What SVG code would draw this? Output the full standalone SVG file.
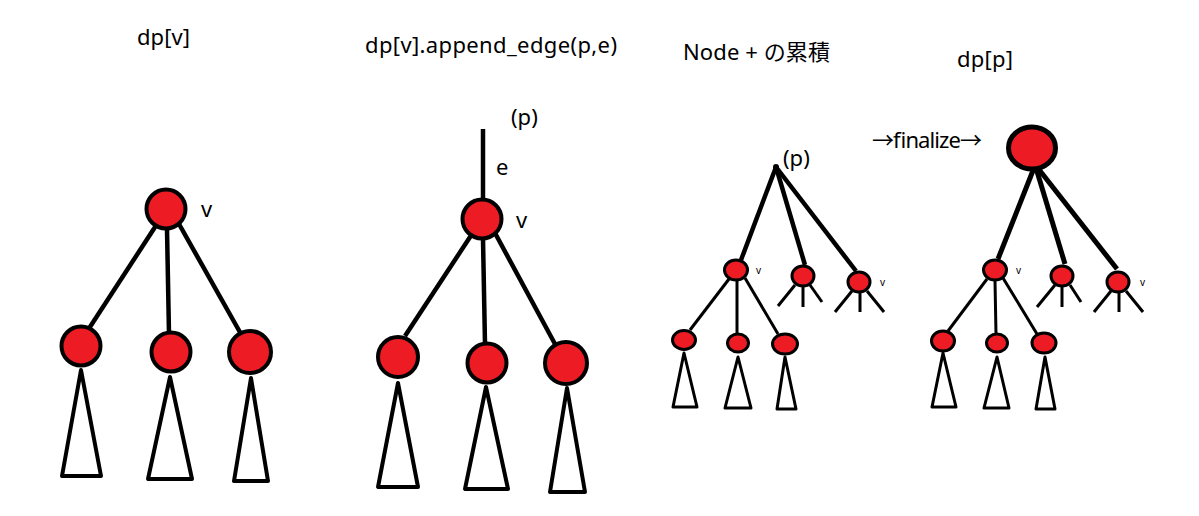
<svg xmlns="http://www.w3.org/2000/svg" width="1199" height="516" viewBox="0 0 1199 516">
<style>
.t{font-family:"Noto Sans","Open Sans","Noto Sans CJK JP",sans-serif;font-size:22px;fill:#000}
.s{font-family:"Noto Sans","Open Sans",sans-serif;font-size:10px;fill:#000}
.n{fill:#ed1c24;stroke:#000;stroke-width:4}
.ns{fill:#ed1c24;stroke:#000;stroke-width:3}
.tri{fill:#fff;stroke:#000;stroke-width:4;stroke-linejoin:round}
.tris{fill:#fff;stroke:#000;stroke-width:3;stroke-linejoin:round}
.e{stroke:#000;stroke-width:4.5;fill:none}
.es{stroke:#000;stroke-width:3;fill:none}
.et{stroke:#000;stroke-width:5;fill:none}
</style>
<rect width="1199" height="516" fill="#fff"/>
<g id="labels">
<text class="t" x="137" y="45" textLength="53">dp[v]</text>
<text class="t" x="365" y="53" textLength="252">dp[v].append_edge(p,e)</text>
<text class="t" x="683" y="60" textLength="147">Node + の累積</text>
<text class="t" x="957" y="67" textLength="56">dp[p]</text>
<text class="t" x="872" y="148" textLength="110">→finalize→</text>
<text class="t" x="511" y="125">(p)</text>
<text class="t" x="496" y="175">e</text>
<text class="t" x="201" y="217">v</text>
<text class="t" x="516" y="228">v</text>
<text class="t" x="783" y="166">(p)</text>
<text class="s" x="756" y="274">v</text>
<text class="s" x="880" y="286">v</text>
<text class="s" x="1016" y="274">v</text>
<text class="s" x="1140" y="286">v</text>
</g>
<g id="connectors">
<line class="e" x1="157" y1="224" x2="88" y2="330"/>
<line class="e" x1="167" y1="229" x2="169" y2="334"/>
<line class="e" x1="179" y1="224" x2="241" y2="334"/>
<line class="e" x1="483" y1="129" x2="483" y2="200"/>
<line class="e" x1="472" y1="234" x2="405" y2="336"/>
<line class="e" x1="483" y1="239" x2="485" y2="344"/>
<line class="e" x1="495" y1="233" x2="555" y2="344"/>
<line class="e" x1="776" y1="167" x2="741" y2="260"/>
<line class="e" x1="776" y1="167" x2="805" y2="265"/>
<line class="e" x1="776" y1="167" x2="856" y2="271"/>
<line class="es" x1="729" y1="279" x2="690" y2="330"/>
<line class="es" x1="737" y1="281" x2="737" y2="334"/>
<line class="es" x1="745" y1="278" x2="778" y2="334"/>
<line class="es" x1="795" y1="285" x2="778" y2="306"/>
<line class="es" x1="803" y1="287" x2="803" y2="307"/>
<line class="es" x1="810" y1="285" x2="822" y2="302"/>
<line class="es" x1="852" y1="291" x2="835" y2="312"/>
<line class="es" x1="860" y1="293" x2="860" y2="312"/>
<line class="es" x1="867" y1="291" x2="884" y2="312"/>
<line class="et" x1="1034" y1="168" x2="998" y2="259"/>
<line class="et" x1="1036" y1="168" x2="1065" y2="264"/>
<line class="et" x1="1037" y1="167" x2="1117" y2="269"/>
<line class="es" x1="987" y1="279" x2="948" y2="331"/>
<line class="es" x1="995" y1="281" x2="996" y2="334"/>
<line class="es" x1="1003" y1="278" x2="1037" y2="334"/>
<line class="es" x1="1055" y1="285" x2="1037" y2="307"/>
<line class="es" x1="1062" y1="287" x2="1062" y2="307"/>
<line class="es" x1="1070" y1="285" x2="1081" y2="302"/>
<line class="es" x1="1111" y1="291" x2="1094" y2="312"/>
<line class="es" x1="1119" y1="293" x2="1119" y2="312"/>
<line class="es" x1="1126" y1="291" x2="1143" y2="312"/>
</g>
<g id="tree1">
<g id="t1-v"><circle class="n" cx="166" cy="209" r="19.5"/></g>
<g id="t1-c1"><polygon class="tri" points="81,370 62,476 101,476"/><circle class="n" cx="81" cy="346" r="19.5"/></g>
<g id="t1-c2"><polygon class="tri" points="170,377 148,479 192,479"/><circle class="n" cx="171" cy="352" r="19.5"/></g>
<g id="t1-c3"><polygon class="tri" points="251,378 234,481 268,481"/><circle class="n" cx="250" cy="352" r="21"/></g>
</g>
<g id="tree2">
<g id="t2-v"><circle class="n" cx="482" cy="219" r="19.5"/></g>
<g id="t2-c1"><polygon class="tri" points="398,383 378,487 418,487"/><circle class="n" cx="398" cy="357" r="20"/></g>
<g id="t2-c2"><polygon class="tri" points="486,387 465,489 508,489"/><circle class="n" cx="487" cy="363" r="19.5"/></g>
<g id="t2-c3"><polygon class="tri" points="567,388 550,492 585,492"/><circle class="n" cx="566" cy="363" r="21"/></g>
</g>
<g id="tree3">
<g id="t3-p"><circle cx="776" cy="167" r="3" fill="#000"/></g>
<g id="t3-a"><ellipse class="ns" cx="736" cy="270" rx="11.5" ry="10"/></g>
<g id="t3-b"><ellipse class="ns" cx="803" cy="276" rx="11" ry="10"/></g>
<g id="t3-c"><ellipse class="ns" cx="859" cy="282" rx="11" ry="10"/></g>
<g id="t3-a1"><polygon class="tris" points="684,353 673,407 697,407"/><ellipse class="ns" cx="684" cy="340" rx="11.5" ry="9.5"/></g>
<g id="t3-a2"><polygon class="tris" points="738,357 725,408 751,408"/><ellipse class="ns" cx="738" cy="343" rx="10.5" ry="9"/></g>
<g id="t3-a3"><polygon class="tris" points="785,357 777,409 796,409"/><ellipse class="ns" cx="785" cy="344" rx="12.5" ry="10"/></g>
</g>
<g id="tree4">
<g id="t4-p"><ellipse cx="1032" cy="148" rx="23.5" ry="21" fill="#ed1c24" stroke="#000" stroke-width="5"/></g>
<g id="t4-a"><ellipse class="ns" cx="995" cy="270" rx="11.5" ry="10"/></g>
<g id="t4-b"><ellipse class="ns" cx="1062" cy="276" rx="11" ry="10"/></g>
<g id="t4-c"><ellipse class="ns" cx="1118" cy="282" rx="11" ry="10"/></g>
<g id="t4-a1"><polygon class="tris" points="943,353 932,407 956,407"/><ellipse class="ns" cx="943" cy="341" rx="11.5" ry="10"/></g>
<g id="t4-a2"><polygon class="tris" points="997,357 984,408 1009,408"/><ellipse class="ns" cx="997" cy="343" rx="10.5" ry="9"/></g>
<g id="t4-a3"><polygon class="tris" points="1045,357 1036,409 1055,409"/><ellipse class="ns" cx="1044" cy="343" rx="12" ry="10"/></g>
</g>
</svg>
